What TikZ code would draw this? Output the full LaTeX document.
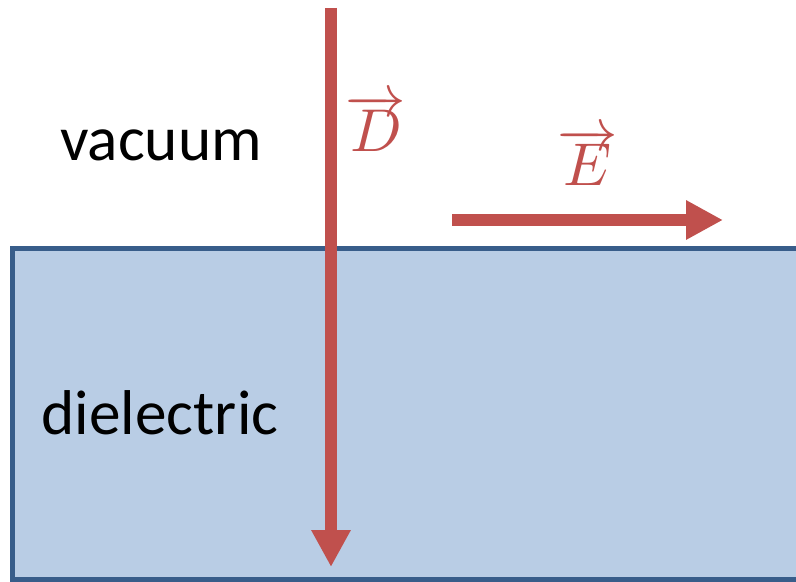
\documentclass[tikz,border=0pt]{standalone}
\usepackage{graphicx}
\usepackage{fontspec}
\setmainfont{Carlito}
\usetikzlibrary{arrows.meta}
\definecolor{fieldred}{HTML}{C0504D}
\definecolor{slabblue}{HTML}{385D8A}
\definecolor{slabfill}{HTML}{B9CDE5}
\newcommand{\bigvec}[1]{\scalebox{4.3}{$\overrightarrow{#1}$}}
\begin{document}
\begin{tikzpicture}[
    x=0.025cm, y=-0.025cm,
    slab/.style={draw=slabblue, fill=slabfill, line width=0.125cm},
    field/.style={draw=fieldred, line width=0.32cm,
                  -{Triangle[length=0.92cm, width=0.92cm]}},
    region/.style={font=\fontsize{45}{50}\selectfont},
    vec/.style={text=fieldred, inner sep=0pt}
]
\useasboundingbox (0,0) rectangle (796,582);
\clip (0,0) rectangle (796,582);

\draw[slab] (12.5,249) rectangle (830,579.5);

\node[region] (vac) at (161,145) {vacuum};
\node[region] (diel) at (160,413) {dielectric};

\coordinate (Dtop) at (331,8);
\coordinate (Dtip) at (331,567);
\coordinate (Etail) at (452,220);
\coordinate (Etip) at (723,220);

\draw[field] (Dtop) -- (Dtip);
\draw[field] (Etail) -- (Etip);

\node[vec] (Dlbl) at (376,123) {\bigvec{D}};
\node[vec] (Elbl) at (588,157) {\bigvec{E}};

\end{tikzpicture}
\end{document}
